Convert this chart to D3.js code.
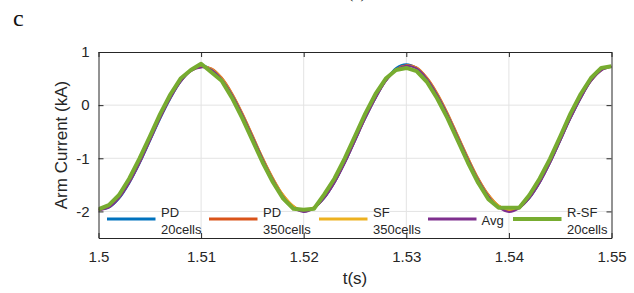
<!DOCTYPE html>
<html lang="en">
<head>
<meta charset="UTF-8">
<title>Arm Current</title>
<script src="https://cdn.jsdelivr.net/npm/d3@7/dist/d3.min.js"></script>
<style>
  body { margin: 0; background: #fff; }
  text { font-family: Arial, "Liberation Sans", sans-serif; fill: #262626; }
</style>
</head>
<body>
<div id="chart"></div>
<script>
// sampling times (s), 1 ms step
let times = d3.range(51).map(function(i){ return 1.5 + i * 0.001; });

let xTicks = [1.5, 1.51, 1.52, 1.53, 1.54, 1.55];
let yTicks = [-2, -1, 0, 1];

let seriesNames = ["PD\n20cells", "PD\n350cells", "SF\n350cells", "Avg", "R-SF\n20cells"];

let pd20 = [-1.96, -1.93, -1.76, -1.47, -1.10, -0.68, -0.26, 0.12, 0.44, 0.65, 0.74, 0.68, 0.50, 0.20, -0.17, -0.59, -1.02, -1.40, -1.71, -1.91,
  -2.00, -1.93, -1.75, -1.46, -1.09, -0.67, -0.25, 0.13, 0.46, 0.70, 0.77, 0.70, 0.50, 0.20, -0.17, -0.59, -1.01, -1.39, -1.70, -1.91,
  -1.98, -1.93, -1.75, -1.46, -1.09, -0.67, -0.25, 0.13, 0.46, 0.67, 0.72];

let pd350 = [-1.97, -1.92, -1.74, -1.45, -1.08, -0.66, -0.24, 0.14, 0.45, 0.65, 0.72, 0.69, 0.52, 0.23, -0.14, -0.56, -0.99, -1.37, -1.69, -1.90,
  -1.99, -1.93, -1.74, -1.45, -1.08, -0.66, -0.24, 0.14, 0.46, 0.67, 0.75, 0.71, 0.52, 0.23, -0.14, -0.56, -0.98, -1.37, -1.68, -1.89,
  -1.98, -1.93, -1.74, -1.45, -1.08, -0.66, -0.24, 0.14, 0.46, 0.66, 0.73];

let sf350 = [-1.96, -1.91, -1.73, -1.44, -1.07, -0.65, -0.23, 0.15, 0.46, 0.65, 0.72, 0.68, 0.51, 0.22, -0.15, -0.57, -0.99, -1.38, -1.69, -1.90,
  -1.98, -1.92, -1.73, -1.44, -1.07, -0.65, -0.23, 0.15, 0.46, 0.67, 0.74, 0.70, 0.51, 0.22, -0.15, -0.57, -0.99, -1.38, -1.69, -1.89,
  -1.97, -1.92, -1.73, -1.44, -1.07, -0.65, -0.23, 0.15, 0.46, 0.66, 0.73];

let avg = [-1.98, -1.93, -1.75, -1.46, -1.09, -0.67, -0.25, 0.13, 0.44, 0.64, 0.71, 0.67, 0.49, 0.20, -0.17, -0.59, -1.01, -1.40, -1.72, -1.93,
  -2.01, -1.94, -1.75, -1.46, -1.09, -0.67, -0.25, 0.13, 0.45, 0.66, 0.74, 0.69, 0.50, 0.20, -0.17, -0.59, -1.01, -1.40, -1.71, -1.92,
  -2.01, -1.94, -1.75, -1.46, -1.09, -0.67, -0.25, 0.13, 0.45, 0.65, 0.72];

let rsf20 = [-1.96, -1.88, -1.69, -1.38, -1.00, -0.59, -0.17, 0.20, 0.50, 0.66, 0.78, 0.62, 0.46, 0.14, -0.24, -0.66, -1.08, -1.45, -1.76, -1.95,
  -1.97, -1.95, -1.68, -1.38, -1.00, -0.58, -0.16, 0.21, 0.50, 0.66, 0.70, 0.64, 0.44, 0.13, -0.24, -0.66, -1.08, -1.46, -1.77, -1.93,
  -1.93, -1.93, -1.69, -1.38, -1.01, -0.59, -0.16, 0.21, 0.51, 0.70, 0.73];

let colors = ["#0072BD", "#D95319", "#EDB120", "#7E2F8E", "#77AC30"];
let series = [pd20, pd350, sf350, avg, rsf20];

let w = 634, h = 293;
let mLeft = 98.5, mRight = 611.5, mTop = 52, mBottom = 238;

let svg = d3.select("#chart").append("svg")
    .attr("width", w)
    .attr("height", h);

let x = d3.scaleLinear().domain([1.5, 1.55]).range([mLeft, mRight]);
let y = d3.scaleLinear().domain([-2.5, 1]).range([mBottom, mTop]);

// grid
svg.append("g").selectAll("line")
  .data(xTicks.slice(1, -1))
  .enter().append("line")
  .attr("x1", function(d){ return x(d); })
  .attr("x2", function(d){ return x(d); })
  .attr("y1", mTop).attr("y2", mBottom)
  .attr("stroke", "#e3e3e3").attr("stroke-width", 1);

svg.append("g").selectAll("line")
  .data(yTicks.slice(0, -1))
  .enter().append("line")
  .attr("y1", function(d){ return y(d); })
  .attr("y2", function(d){ return y(d); })
  .attr("x1", mLeft).attr("x2", mRight)
  .attr("stroke", "#e3e3e3").attr("stroke-width", 1);

// curves
svg.append("clipPath").attr("id", "clip")
  .append("rect").attr("x", mLeft).attr("y", mTop)
  .attr("width", mRight - mLeft).attr("height", mBottom - mTop);

let plot = svg.append("g").attr("clip-path", "url(#clip)");

series.forEach(function(vals, k){
  let line = d3.line()
    .x(function(d, i){ return x(times[i]); })
    .y(function(d){ return y(d); })
    .curve(k == 4 ? d3.curveLinear : d3.curveCatmullRom);
  plot.append("path")
    .attr("d", line(vals))
    .attr("fill", "none")
    .attr("stroke", colors[k])
    .attr("stroke-width", k == 4 ? 4 : 2)
    .attr("stroke-linejoin", "round");
});

// axes (MATLAB style, inward ticks on all four sides)
let tickLen = 5;
let axisCol = "#262626";
let plain = function(d){ return String(d); };

let xb = svg.append("g").attr("transform", "translate(0," + mBottom + ")")
  .call(d3.axisBottom(x).tickValues(xTicks).tickSizeInner(-tickLen).tickSizeOuter(0).tickPadding(13)
    .tickFormat(plain));
let xt = svg.append("g").attr("transform", "translate(0," + mTop + ")")
  .call(d3.axisTop(x).tickValues(xTicks).tickSizeInner(-tickLen).tickSizeOuter(0).tickFormat(""));
let yl = svg.append("g").attr("transform", "translate(" + mLeft + ",0)")
  .call(d3.axisLeft(y).tickValues(yTicks).tickSizeInner(-tickLen).tickSizeOuter(0).tickPadding(9)
    .tickFormat(plain));
let yr = svg.append("g").attr("transform", "translate(" + mRight + ",0)")
  .call(d3.axisRight(y).tickValues(yTicks).tickSizeInner(-tickLen).tickSizeOuter(0).tickFormat(""));

[xb, xt, yl, yr].forEach(function(g){
  g.attr("font-family", null);
  g.select(".domain").attr("stroke", axisCol);
  g.selectAll(".tick line").attr("stroke", axisCol);
  g.selectAll("text").attr("font-size", "15px")
    .attr("fill", axisCol);
});

// axis labels
svg.append("text")
  .attr("x", (mLeft + mRight) / 2).attr("y", 284)
  .attr("text-anchor", "middle")
  .attr("font-size", "17px")
  .text("t(s)");

svg.append("text")
  .attr("transform", "translate(67," + (mTop + mBottom) / 2 + ") rotate(-90)")
  .attr("text-anchor", "middle")
  .attr("font-size", "17px")
  .text("Arm Current (kA)");

// panel letter and cut caption
svg.append("text")
  .attr("x", 13).attr("y", 26)
  .style("font-family", "'Liberation Serif', 'Times New Roman', serif")
  .style("fill", "#111")
  .attr("font-size", "24px")
  .text("c");

svg.append("text")
  .attr("x", 357).attr("y", -2)
  .attr("text-anchor", "middle")
  .style("font-family", "'Liberation Serif', 'Times New Roman', serif")
  .attr("font-size", "16px")
  .text("(c)");

// legend
let legX = [107, 209, 319, 428, 513];
let legY = 219;
let leg = svg.append("g");
seriesNames.forEach(function(name, k){
  let g = leg.append("g").attr("transform", "translate(" + legX[k] + "," + legY + ")");
  g.append("line")
    .attr("x1", 0).attr("x2", 48.5)
    .attr("stroke", colors[k])
    .attr("stroke-width", k == 4 ? 4 : 3);
  let lines = name.split("\n");
  if (lines.length == 1) {
    g.append("text").attr("x", 53.5).attr("y", 6).attr("font-size", "13px").text(lines[0]);
  } else {
    g.append("text").attr("x", 54).attr("y", -2).attr("font-size", "13px").text(lines[0]);
    g.append("text").attr("x", 54).attr("y", 14.5).attr("font-size", "13px").text(lines[1]);
  }
});
</script>
</body>
</html>
